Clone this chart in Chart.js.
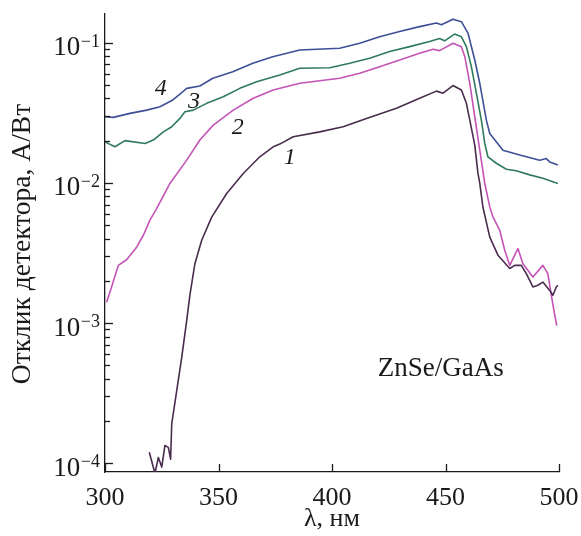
<!DOCTYPE html>
<html>
<head>
<meta charset="utf-8">
<script src="https://cdn.jsdelivr.net/npm/chart.js@4.4.1/dist/chart.umd.min.js"></script>
<style>
  html,body{margin:0;padding:0;background:#fff;}
  #wrap{width:581px;height:536px;position:relative;}
</style>
</head>
<body>
<div id="wrap"><canvas id="c" width="581" height="536"></canvas></div>
<script>
// ---- data ----
const lambda1 = [319.5,322,323.5,325,326.4,327.9,328.9,329.4,331.6,333.8,336,337.4,339.6,342.6,347,353.6,360.9,368.2,374.1,377,382.9,394.6,404.9,415.2,428.4,438.6,446,448.9,453.3,457,459.2,460.7,462.9,464.3,465.1,466.5,469.5,473.1,478.3,480.5,483.4,485.6,488.5,490.7,492.9,495.9,497.3,498.8,499.5];
const resp1   = [1.2e-4,8.5e-5,1.10e-4,9.4e-5,1.34e-4,1.30e-4,1.07e-4,1.91e-4,3.3e-4,5.7e-4,1.045e-3,1.58e-3,2.65e-3,3.9e-3,5.7e-3,8.4e-3,0.01167,0.01534,0.01808,0.0189,0.0213,0.0231,0.0251,0.0288,0.0340,0.0401,0.0451,0.0436,0.0494,0.0459,0.0369,0.0280,0.0186,0.01167,0.0099,6.7e-3,4.1e-3,3.05e-3,2.45e-3,2.58e-3,2.58e-3,2.25e-3,1.81e-3,1.86e-3,1.96e-3,1.71e-3,1.58e-3,1.81e-3,1.86e-3];

const lambda2 = [300.7,302.9,305.9,309.6,314,316.9,319.8,322.8,328.6,336,341.8,347.7,356.5,365.3,374.1,385.8,403.4,412.2,421,429.8,438.6,444.5,447.4,453.3,457,458.5,460.7,462.9,465.1,467.3,469.5,470.9,473.9,476.1,478.3,481.9,484.1,488.5,492.9,495.1,496.5,498,499];
const resp2   = [1.41e-3,1.81e-3,2.58e-3,2.84e-3,3.49e-3,4.23e-3,5.42e-3,6.57e-3,9.9e-3,0.01452,0.0202,0.0258,0.0330,0.0401,0.0459,0.0513,0.0557,0.0604,0.0674,0.0752,0.0839,0.0897,0.0877,0.0990,0.0936,0.0794,0.0513,0.0296,0.0171,9.9e-3,6.74e-3,5.71e-3,4.59e-3,3.30e-3,2.58e-3,3.40e-3,2.65e-3,2.13e-3,2.58e-3,2.25e-3,1.62e-3,1.17e-3,9.6e-4];

const lambda3 = [300,304.4,308.8,317.6,321.3,325.7,329.4,333,335.2,338.9,344.8,352.1,359.4,366.8,377,385.8,399,407.8,416.6,425.4,434.2,443,447.4,449.6,454,457,459.2,461.4,463.6,465.8,467.3,468.7,472.4,476.8,481.2,487.1,492.9,499.5];
const resp3   = [0.0196,0.0181,0.0200,0.0191,0.0202,0.0231,0.0251,0.0288,0.0321,0.0330,0.0369,0.0411,0.0472,0.0526,0.0588,0.0656,0.0662,0.0713,0.0774,0.0863,0.0936,0.1017,0.107,0.103,0.115,0.110,0.0936,0.0674,0.0436,0.0280,0.0191,0.0153,0.0138,0.0125,0.0122,0.0114,0.0108,0.0099];

const lambda4 = [300,303.7,311,318.4,324.2,329.9,333,336,341.8,347.5,356.3,365.1,373.9,385.8,403.4,412.2,421,429.8,438.6,446,448.2,453.3,457,459.9,462.9,465.1,468,469.5,475.3,482.7,491.5,494.4,495.9,499.5];
const resp4   = [0.0296,0.0293,0.0313,0.0330,0.0349,0.0390,0.0430,0.0472,0.0491,0.0557,0.0621,0.0713,0.0794,0.0887,0.0912,0.0990,0.110,0.120,0.130,0.138,0.134,0.147,0.141,0.117,0.0752,0.0513,0.0280,0.0225,0.0171,0.0158,0.0145,0.0149,0.0141,0.0134];

const xTicks = [300,350,400,450,500];
const xTickLabels = ['300','350','400','450','500'];
const yDecades = [-4,-3,-2,-1];
const yTickExpLabels = ['\u22124','\u22123','\u22122','\u22121'];
const xTitle = '\u03bb, нм';
const yTitle = 'Отклик детектора, А/Вт';

const curveLabels = ['1','2','3','4'];
const curveLabelLambda = [381.4,358.5,339.2,324.6];
const curveLabelResp = [0.0150,0.0246,0.0377,0.0467];
const sampleLabel = 'ZnSe/GaAs';
const sampleLabelLambda = 447.9;
const sampleLabelResp = 4.74e-4;

const colors = ['#4a2c4e','#c453b6','#2f7a5b','#3e4f96'];

function pts(xs, ys){ return xs.map((v,i)=>({x:v,y:ys[i]})); }

const SERIF = '"Liberation Serif", "Times New Roman", serif';

const decor = {
  id:'decor',
  afterDraw(chart){
    const ctx = chart.ctx, xs = chart.scales.x, ys = chart.scales.y, a = chart.chartArea;
    ctx.save();
    ctx.strokeStyle = '#1a1a1a';
    ctx.lineWidth = 1.3;
    // y ticks (inward)
    yDecades.forEach(e=>{
      for(let m=1;m<=9;m++){
        const v = m*Math.pow(10,e);
        if (v < ys.min || v > ys.max) continue;
        const py = Math.round(ys.getPixelForValue(v))+0.5;
        const len = m===1 ? 8 : 5;
        ctx.beginPath(); ctx.moveTo(a.left, py); ctx.lineTo(a.left+len, py); ctx.stroke();
      }
    });
    // x ticks (inward)
    xTicks.forEach(v=>{
      const px = Math.round(xs.getPixelForValue(v))+0.5;
      ctx.beginPath(); ctx.moveTo(px, a.bottom); ctx.lineTo(px, a.bottom-8); ctx.stroke();
    });
    ctx.fillStyle = '#1a1a1a';
    // x tick labels
    ctx.font = '26px ' + SERIF;
    ctx.textAlign = 'center'; ctx.textBaseline = 'alphabetic';
    xTicks.forEach((v,i)=>{
      ctx.fillText(xTickLabels[i], xs.getPixelForValue(v), a.bottom+33);
    });
    // y tick labels: 10^exp
    yDecades.forEach((e,i)=>{
      const py = ys.getPixelForValue(Math.pow(10,e));
      const right = a.left - 5;
      ctx.font = '18px ' + SERIF;
      const ew = ctx.measureText(yTickExpLabels[i]).width;
      ctx.textAlign = 'right';
      ctx.fillText(yTickExpLabels[i], right, py+4);
      ctx.font = '27px ' + SERIF;
      ctx.fillText('10', right - ew - 0.5, py+12.5);
    });
    // axis titles
    ctx.font = '26px ' + SERIF;
    ctx.textAlign = 'center';
    ctx.fillText(xTitle, (a.left+a.right)/2, a.bottom+54);
    ctx.save();
    ctx.translate(22.5, 244);
    ctx.rotate(-Math.PI/2);
    ctx.font = '27.5px ' + SERIF;
    ctx.textBaseline = 'middle';
    ctx.fillText(yTitle, 0, 0);
    ctx.restore();
    // curve labels
    ctx.font = 'italic 24px ' + SERIF;
    ctx.textAlign = 'center'; ctx.textBaseline = 'middle';
    curveLabels.forEach((t,i)=>{
      ctx.fillText(t, xs.getPixelForValue(curveLabelLambda[i]), ys.getPixelForValue(curveLabelResp[i]));
    });
    ctx.font = '27px ' + SERIF;
    ctx.textBaseline = 'middle';
    ctx.fillText(sampleLabel, xs.getPixelForValue(sampleLabelLambda), ys.getPixelForValue(sampleLabelResp));
    ctx.restore();
  }
};

new Chart(document.getElementById('c'), {
  type:'line',
  data:{
    datasets:[
      {label:'1', data:pts(lambda1,resp1), borderColor:colors[0]},
      {label:'2', data:pts(lambda2,resp2), borderColor:colors[1]},
      {label:'3', data:pts(lambda3,resp3), borderColor:colors[2]},
      {label:'4', data:pts(lambda4,resp4), borderColor:colors[3]}
    ]
  },
  options:{
    responsive:false,
    animation:false,
    devicePixelRatio:1,
    layout:{padding:{top:14,right:22,left:0,bottom:0}},
    elements:{line:{borderWidth:1.6,tension:0,fill:false,borderJoinStyle:'round'},point:{radius:0}},
    plugins:{legend:{display:false},tooltip:{enabled:false}},
    scales:{
      x:{type:'linear',min:300,max:500,bounds:'data',
         ticks:{display:false},grid:{display:false,drawTicks:false},
         border:{display:true,color:'#1a1a1a',width:1.3},
         afterFit:s=>{s.height=64;}},
      y:{type:'logarithmic',min:8.67e-5,max:0.16,bounds:'data',
         ticks:{display:false},grid:{display:false,drawTicks:false},
         border:{display:true,color:'#1a1a1a',width:1.3},
         afterFit:s=>{s.width=105;}}
    }
  },
  plugins:[decor]
});
</script>
</body>
</html>
